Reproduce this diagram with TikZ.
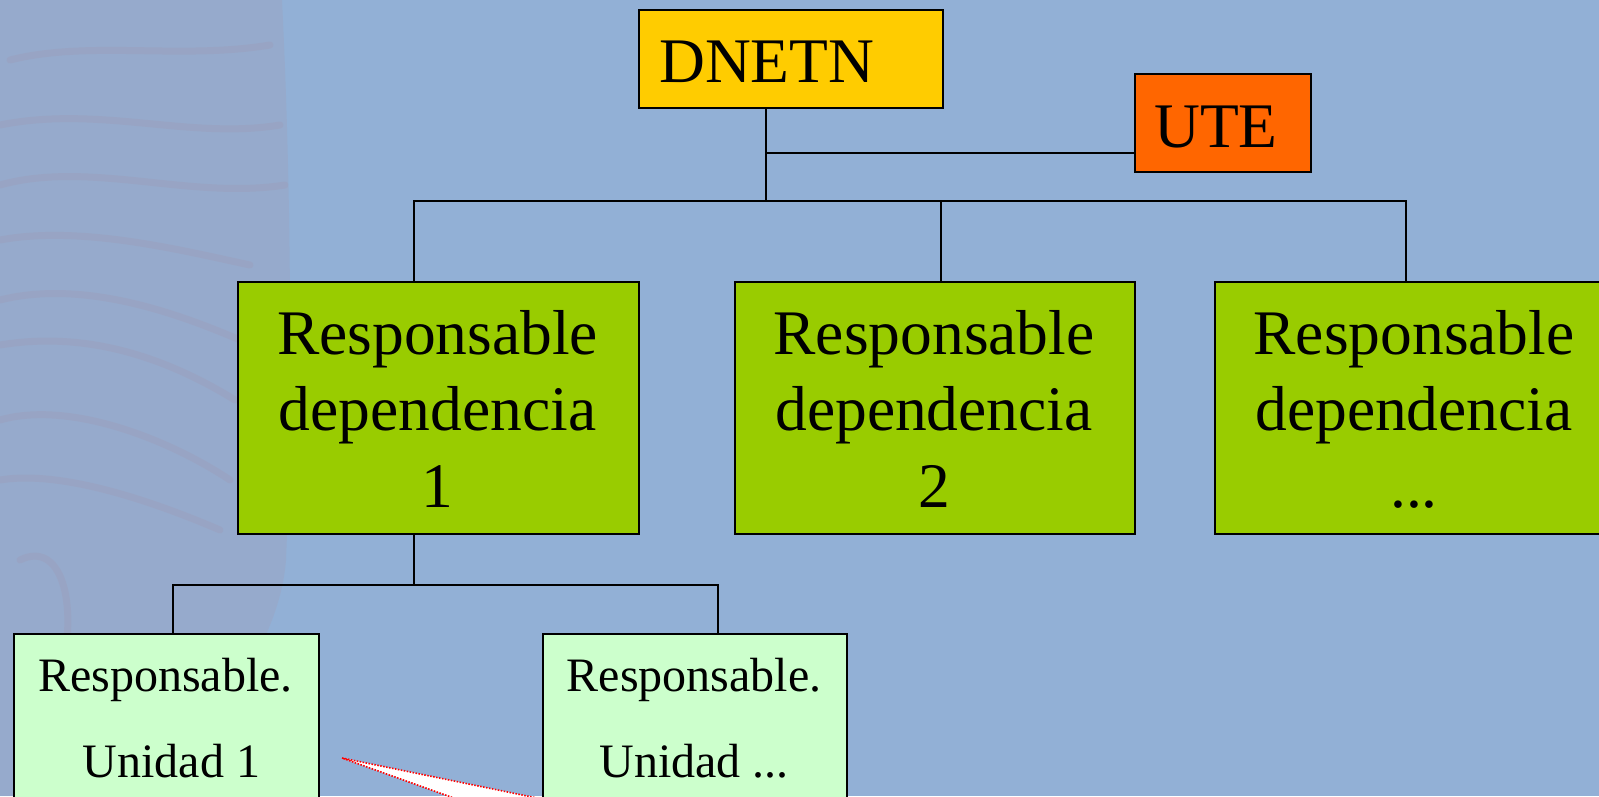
\documentclass[tikz,border=0pt]{standalone}
\usepackage{fontspec}
\setmainfont{Liberation Serif}
\definecolor{bgc}{RGB}{146,176,214}
\definecolor{bandc}{RGB}{160,160,185}
\definecolor{wavec}{RGB}{165,140,160}
\definecolor{dnetnc}{RGB}{255,204,0}
\definecolor{utec}{RGB}{255,102,0}
\definecolor{greenc}{RGB}{153,204,0}
\definecolor{lightc}{RGB}{204,255,204}
\begin{document}
\begin{tikzpicture}[x=1pt,y=-1pt,
  box/.style={draw=black, line width=2pt, inner sep=0pt, anchor=north west},
  conn/.style={draw=black, line width=1.8pt},
  bigtxt/.style={font=\fontsize{63.5}{76.5}\selectfont, align=center, inner sep=0pt},
  smalltxt/.style={font=\fontsize{48}{86}\selectfont, align=center, inner sep=0pt},
  wave/.style={draw=wavec, line width=7pt, opacity=0.18, line cap=round}
]
\useasboundingbox (0,0) rectangle (1599,796);
\clip (0,0) rectangle (1599,796);
% background
\fill[bgc] (0,0) rectangle (1599,796);
\fill[bandc, opacity=0.32] (0,0) -- (282,0) .. controls (292,200) and (292,420) .. (286,560)
  .. controls (280,640) and (220,720) .. (150,796) -- (0,796) -- cycle;
\draw[wave] (10,60) .. controls (90,40) and (180,60) .. (270,45);
\draw[wave] (0,125) .. controls (100,105) and (190,140) .. (280,125);
\draw[wave] (0,185) .. controls (90,160) and (190,200) .. (285,185);
\draw[wave] (0,240) .. controls (80,225) and (180,250) .. (250,265);
\draw[wave] (0,300) .. controls (80,280) and (170,310) .. (240,340);
\draw[wave] (0,345) .. controls (90,330) and (170,360) .. (235,400);
\draw[wave] (0,420) .. controls (70,400) and (170,440) .. (230,480);
\draw[wave] (0,480) .. controls (60,470) and (150,500) .. (220,530);
\draw[wave] (20,560) .. controls (60,540) and (80,600) .. (60,680);

% coordinates for connector joints
\coordinate (bus) at (766,201);
\coordinate (uj) at (766,153);
\coordinate (b1) at (414,201);
\coordinate (b2) at (941,201);
\coordinate (b3) at (1406,201);
\coordinate (c0) at (414,585);
\coordinate (c1) at (173,585);
\coordinate (c2) at (718,585);

% boxes
\node[box, fill=dnetnc, minimum width=304, minimum height=98] (dnetn) at (638,9) {};
\node[box, fill=utec, minimum width=176, minimum height=98] (ute) at (1134,73) {};
\node[box, fill=greenc, minimum width=401, minimum height=252] (g1) at (237,281) {};
\node[box, fill=greenc, minimum width=400, minimum height=252] (g2) at (734,281) {};
\node[box, fill=greenc, minimum width=400, minimum height=252] (g3) at (1214,281) {};
\node[box, fill=lightc, minimum width=305, minimum height=260] (l1) at (13,633) {};
\node[box, fill=lightc, minimum width=304, minimum height=260] (l2) at (542,633) {};

% connectors
\draw[conn] (dnetn.south -| bus) -- (bus);
\draw[conn] (uj) -- (uj -| ute.west);
\draw[conn] (b1 |- g1.north) -- (b1) -- (b3) -- (b3 |- g3.north);
\draw[conn] (b2) -- (b2 |- g2.north);
\draw[conn] (g1.south -| c0) -- (c0);
\draw[conn] (c1 |- l1.north) -- (c1) -- (c2) -- (c2 |- l2.north);

% texts
\node[bigtxt, anchor=base west] (tdn) at (659,82) {DNETN};
\node[bigtxt, anchor=base] (tute) at (1216,147) {UTE};
\node[bigtxt, anchor=north] (tg1) at (437.5,310) {Responsable\\dependencia\\1};
\node[bigtxt, anchor=north] (tg2) at (934,310) {Responsable\\dependencia\\2};
\node[bigtxt, anchor=north] (tg3) at (1414,310) {Responsable\\dependencia\\...};
\node[smalltxt, anchor=north] (tl1) at (165.5,658) {Responsable.\\\hspace*{12pt}Unidad 1};
\node[smalltxt, anchor=north] (tl2) at (694,658) {Responsable.\\Unidad ...};

% callout pointer
\coordinate (tip) at (342,758);
\coordinate (pa) at (790,850);
\coordinate (pb) at (599,850);
\fill[white] (tip) -- (pa) -- (pb) -- cycle;
\draw[red, line width=1.6pt, dash pattern=on 1.5pt off 1.5pt] (pb) -- (tip) -- (pa);
\end{tikzpicture}
\end{document}
